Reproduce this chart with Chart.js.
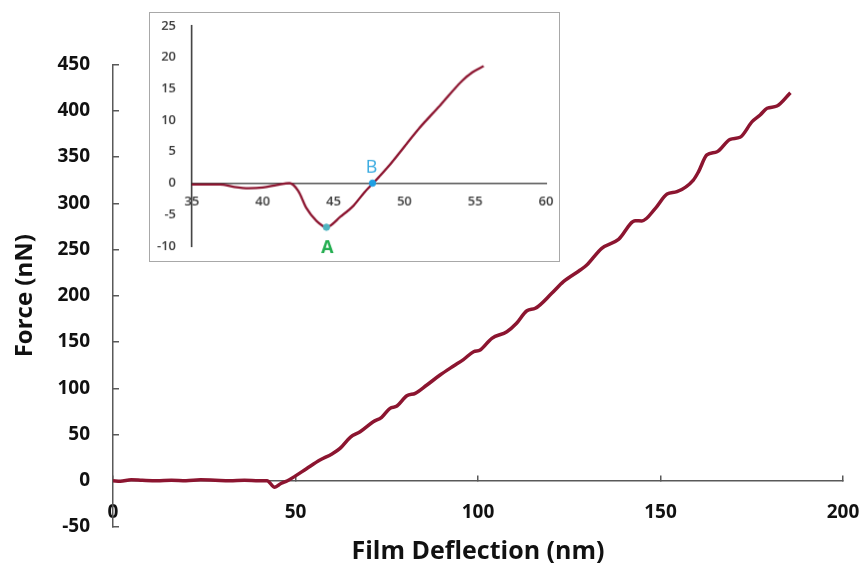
<!DOCTYPE html>
<html>
<head>
<meta charset="utf-8">
<script src="https://cdn.jsdelivr.net/npm/chart.js@4"></script>
<style>
  html, body { margin: 0; padding: 0; background: #fff; overflow: hidden; }
  #wrap { position: relative; width: 865px; height: 568px; }
  #mainChart { position: absolute; left: 0; top: 0; }
  #insetChart { position: absolute; left: 149px; top: 12px; border: 1.5px solid #a8a8a8; background: #fff; }
</style>
</head>
<body>
<div id="wrap">
  <canvas id="mainChart" width="865" height="568"></canvas>
  <canvas id="insetChart" width="411" height="250"></canvas>
</div>
<script>
'use strict'

// main curve: film deflection (nm) vs force (nN)
const mainX = [0, 2, 5, 8, 12, 16, 20, 24, 28, 32, 36, 40, 42.2, 44.3, 46, 47.8, 49.9, 53, 56.7, 60,
    62.2, 65, 67.7, 71.3, 73.6, 75.9, 77.8, 80.5, 82.8, 86, 89.6, 93.3, 96, 98.8, 100.6, 103.8,
    107.9, 110.5, 113.4, 115.7, 120.2, 123.4, 128, 129.8, 133.9, 138.5, 143.1, 144.9, 148.6,
    151.8, 154.5, 159, 160.4, 162.7, 165.5, 169.1, 171.8, 175.1, 177.3, 179.2, 181.9, 185.6];
const mainY = [0, -0.5, 1, 0.5, 0, 0.5, 0, 1, 0.5, 0, 0.5, 0, 0, -7, -3, 0, 5, 13, 22.4, 29,
    35, 47, 53, 63.8, 68.6, 78.3, 80.8, 91.9, 94.5, 103.5, 114.3, 124.1, 131, 139.5, 141.4, 154,
    161.1, 170, 183.8, 186.4, 202.6, 215.2, 227.8, 233.2, 251.3, 261, 281.1, 280.8, 294.5,
    310, 312.5, 325.1, 334, 352.2, 355.7, 369.1, 371.3, 388.2, 395.4, 402.7, 405.1, 419.5];
const mainXTicks = [0, 50, 100, 150, 200];
const mainYTicks = [-50, 0, 50, 100, 150, 200, 250, 300, 350, 400, 450];

// inset: zoom on the contact region
const insetX = [35, 36, 37, 38, 39, 40, 41, 41.9, 42.5, 43.1, 43.8, 44.5, 45.5, 46.4, 47.2, 47.8,
    49, 51, 52.5, 54.1, 54.8, 55.6];
const insetY = [-0.2, -0.2, -0.2, -0.6, -0.8, -0.7, -0.3, 0, -1.2, -4, -6, -7, -5.3, -3.6, -1.4, 0,
    3, 8.6, 12.3, 16.3, 17.6, 18.6];
const insetXTicks = [35, 40, 45, 50, 55, 60];
const insetYTicks = [-10, -5, 0, 5, 10, 15, 20, 25];

// marked points A and B
const markerNames = ['A', 'B'];
const markerX = [44.5, 47.75];
const markerY = [-7, 0];
const markerColors = ['#4fb4c0', '#1e9fe3'];
const markerTextColors = ['#22ad4f', '#35a9e0'];

const lineColor = '#8c1530';
const axisColor = '#595959';
const fontFamily = '"Open Sans", Lato, sans-serif';

function points(xs, ys) {
    return xs.map((x, i) => ({ x: x, y: ys[i] }));
}

function fixTicks(list) {
    return scale => { scale.ticks = list.map(v => ({ value: v })); };
}

// keep the plot area exactly where the layout padding puts it
function noEdgePadding(width) {
    return scale => {
        if (width) scale.width = width;
        scale.paddingLeft = scale.paddingRight = scale.paddingTop = scale.paddingBottom = 0;
    };
}

new Chart(document.getElementById('mainChart'), {
    type: 'scatter',
    data: {
        datasets: [{
            data: points(mainX, mainY),
            showLine: true,
            borderColor: lineColor,
            borderWidth: 3.5,
            pointRadius: 0,
            cubicInterpolationMode: 'monotone'
        }]
    },
    options: {
        responsive: false,
        devicePixelRatio: 1,
        animation: false,
        layout: { padding: { top: 64.5, right: 22, bottom: 1, left: 0 } },
        plugins: {
            legend: { display: false },
            tooltip: { enabled: false },
            title: {
                display: true,
                position: 'bottom',
                fullSize: false,
                text: 'Film Deflection (nm)',
                color: '#111',
                font: { family: fontFamily, weight: 'bold', size: 25 },
                padding: { top: 10, bottom: 0 }
            }
        },
        scales: {
            x: {
                type: 'linear',
                min: 0,
                max: 200,
                position: { y: 0 },
                afterBuildTicks: fixTicks(mainXTicks),
                afterFit: noEdgePadding(0),
                grid: { drawOnChartArea: false, drawTicks: true, tickLength: -6, color: axisColor, lineWidth: 1.5 },
                border: { display: true, color: axisColor, width: 1.5 },
                ticks: { padding: 26.6, color: '#111', maxRotation: 0, font: { family: fontFamily, weight: 'bold', size: 19 } }
            },
            y: {
                type: 'linear',
                min: -50,
                max: 450,
                position: 'left',
                afterBuildTicks: fixTicks(mainYTicks),
                afterFit: noEdgePadding(113),
                grid: { drawOnChartArea: false, drawTicks: true, tickLength: -6, color: axisColor, lineWidth: 1.5 },
                border: { display: true, color: axisColor, width: 1.5 },
                ticks: { padding: 29, color: '#111', font: { family: fontFamily, weight: 'bold', size: 19 } },
                title: {
                    display: true,
                    text: 'Force (nN)',
                    color: '#111',
                    font: { family: fontFamily, weight: 'bold', size: 24 },
                    padding: { top: 10.6, bottom: 0 }
                }
            }
        }
    }
});

// writes A / B next to the marked points
const markerLabels = {
    id: 'markerLabels',
    afterDatasetsDraw(chart) {
        const ctx = chart.ctx;
        const xs = chart.scales.x, ys = chart.scales.y;
        ctx.save();
        ctx.textAlign = 'center';
        ctx.textBaseline = 'middle';
        markerNames.forEach((name, i) => {
            const px = xs.getPixelForValue(markerX[i]);
            const py = ys.getPixelForValue(markerY[i]);
            ctx.fillStyle = markerTextColors[i];
            if (i === 0) {
                ctx.font = 'bold 18px ' + fontFamily;
                ctx.fillText(name, px + 1, py + 21);
            } else {
                ctx.font = '18px ' + fontFamily;
                ctx.fillText(name, px - 1, py - 16);
            }
        });
        ctx.restore();
    }
};

new Chart(document.getElementById('insetChart'), {
    type: 'scatter',
    data: {
        datasets: [{
            data: points(markerX, markerY),
            pointRadius: 3.2,
            pointBackgroundColor: markerColors,
            pointBorderColor: markerColors,
            showLine: false
        }, {
            data: points(insetX, insetY),
            showLine: true,
            borderColor: lineColor,
            borderWidth: 2.3,
            pointRadius: 0,
            cubicInterpolationMode: 'monotone'
        }]
    },
    options: {
        responsive: false,
        devicePixelRatio: 1,
        animation: false,
        layout: { padding: { top: 12.8, right: 13, bottom: 15, left: 0 } },
        plugins: { legend: { display: false }, tooltip: { enabled: false } },
        scales: {
            x: {
                type: 'linear',
                min: 35,
                max: 60,
                position: { y: 0 },
                afterBuildTicks: fixTicks(insetXTicks),
                afterFit: noEdgePadding(0),
                grid: { display: false, drawTicks: false },
                border: { display: true, color: '#4d4d4d', width: 1.5 },
                ticks: { padding: 10.5, color: '#3a3a3a', maxRotation: 0, font: { family: fontFamily, weight: '600', size: 13 } }
            },
            y: {
                type: 'linear',
                min: -10,
                max: 25,
                position: 'left',
                afterBuildTicks: fixTicks(insetYTicks),
                afterFit: noEdgePadding(42),
                grid: { display: false, drawTicks: false },
                border: { display: true, color: '#333', width: 1.5 },
                ticks: { padding: 16, color: '#3a3a3a', font: { family: fontFamily, weight: '600', size: 13 } }
            }
        }
    },
    plugins: [markerLabels]
});
</script>
</body>
</html>
